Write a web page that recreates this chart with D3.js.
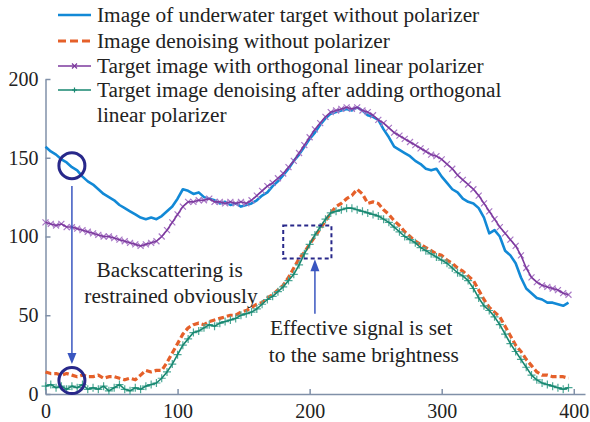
<!DOCTYPE html>
<html>
<head>
<meta charset="utf-8">
<script src="https://cdn.jsdelivr.net/npm/d3@7"></script>
<style>
  body { margin: 0; background: #fff; }
  svg { display: block; }
  svg text { font-family: "Liberation Serif", "Times New Roman", serif; }
  .axis path, .axis line { stroke: #8090a8; stroke-width: 1.5; }
  .axis text { font-size: 20px; fill: #222; }
</style>
</head>
<body>
<svg></svg>
<script>
// sampled every 4 columns along the profile
var xs = d3.range(0, 400, 4);

var blueVals = [157,154,152,149,147,144,142,138,135,133,130,127,125,123,120,118,116,114,112,111,
  112,111,113,116,119,124,130,129,127,128,125,124,123,121,122,120,121,119,120,121,
  123,126,128,132,135,139,143,148,152,157,162,166,171,175,178,179,180,181,180,182,
  180,177,176,174,168,163,157,155,153,151,148,146,143,142,143,138,134,130,128,124,
  122,121,118,112,102,104,100,91,88,83,74,67,64,61,60,58,58,57,56,58];

var orangeVals = [14,13,13,12,13,12,11,12,11,11,12,10,11,11,10,9,10,9,12,15,
  14,15,15,20,26,32,38,42,44,45,44,46,47,48,49,50,50,52,53,55,
  57,58,61,63,66,69,74,80,86,90,95,100,105,110,115,119,121,124,126,130,
  127,121,122,121,117,114,110,107,103,100,97,95,93,91,89,88,85,83,80,78,
  75,72,66,60,55,52,49,43,37,31,27,22,18,14,12,12,11,11,11,10];

var purpleVals = [109,108,107,108,106,106,105,104,103,102,101,100,100,99,98,97,96,95,94,95,
  96,97,100,104,109,114,119,122,122,123,123,124,122,122,121,122,121,122,121,123,
  126,129,132,134,137,140,144,148,153,158,163,168,172,176,179,180,181,182,181,182,
  180,179,177,174,172,169,166,164,162,160,158,156,154,152,151,149,146,143,139,136,
  133,130,126,121,116,111,106,102,98,94,88,80,74,71,69,68,67,66,64,63];

var greenVals = [5,6,4,5,3,5,4,6,3,4,3,5,2,4,6,3,2,4,3,5,
  6,7,10,14,19,25,31,35,39,40,42,44,43,45,46,47,48,50,51,52,
  54,57,60,62,65,68,72,76,82,89,95,101,106,111,115,116,117,118,118,117,
  116,115,114,113,111,109,106,103,100,98,96,93,91,89,87,85,83,80,77,75,
  72,67,61,56,53,49,44,38,32,27,22,17,12,9,7,6,5,4,3,4];

var legendLabels = [
  'Image of underwater target without polarizer',
  'Image denoising without polarizer',
  'Target image with orthogonal linear polarizer',
  'Target image denoising after adding orthogonal'
];
var legendExtra = 'linear polarizer';

var xTicks = [0, 100, 200, 300, 400];
var yTicks = [0, 50, 100, 150, 200];

var width = 590;
var height = 422;
var fontSize = 21.3;
var svg = d3.select('svg')
            .attr('width', width)
            .attr('height', height);

var xScale = d3.scaleLinear()
               .domain([0, 408.5])
               .range([45.5, 585]);
var yScale = d3.scaleLinear()
               .domain([0, 200])
               .range([394, 79]);

var series = [
  { name: 'blue', vals: blueVals, color: '#1289d6', width: 2.6, dash: null, marker: null },
  { name: 'orange', vals: orangeVals, color: '#e5602a', width: 3.2, dash: '6,3', marker: null },
  { name: 'purple', vals: purpleVals, color: '#7d3a9e', width: 1.6, dash: null, marker: 'x', mcolor: '#a979c6' },
  { name: 'green', vals: greenVals, color: '#178770', width: 1.6, dash: null, marker: '+', mcolor: '#4da896' }
];

// axes
svg.append('g')
   .attr('class', 'axis x-axis')
   .attr('transform', `translate(0, ${yScale(0)})`)
   .call(d3.axisBottom(xScale).tickValues(xTicks).tickSizeInner(-5).tickSizeOuter(0).tickPadding(8));

svg.append('g')
   .attr('class', 'axis y-axis')
   .attr('transform', `translate(${xScale(0)}, 0)`)
   .call(d3.axisLeft(yScale).tickValues(yTicks).tickSizeInner(-5).tickSizeOuter(0).tickPadding(7));

svg.selectAll('.axis').attr('font-family', null).attr('font-size', null);
svg.selectAll('.x-axis text').attr('dy', '0.8em');

var line = d3.line()
             .x((d, i) => xScale(xs[i]))
             .y(d => yScale(d));

function markerPath(type, s) {
  if (type === 'x') return `M${-s},${-s}L${s},${s}M${-s},${s}L${s},${-s}`;
  return `M${-s},0L${s},0M0,${-s}L0,${s}`;
}

series.forEach(function(s) {
  var g = svg.append('g').attr('class', 'series ' + s.name);
  if (s.marker) {
    g.selectAll('.mk')
     .data(s.vals)
     .enter()
     .append('path')
       .attr('class', 'mk')
       .attr('transform', (d, i) => `translate(${xScale(xs[i])},${yScale(d)})`)
       .attr('d', markerPath(s.marker, s.marker === 'x' ? 3 : 4))
       .attr('stroke', s.mcolor)
       .attr('stroke-width', 1.2)
       .attr('fill', 'none');
  }
  g.append('path')
   .datum(s.vals)
   .attr('d', line)
   .attr('fill', 'none')
   .attr('stroke', s.color)
   .attr('stroke-width', s.width)
   .attr('stroke-dasharray', s.dash)
   .attr('stroke-linejoin', 'round');
});

// legend
var legend = svg.append('g').attr('class', 'legend');
var legendY = [15, 41, 66, 90];
series.forEach(function(s, i) {
  var y = legendY[i];
  legend.append('line')
        .attr('x1', 58).attr('x2', 91)
        .attr('y1', y).attr('y2', y)
        .attr('stroke', s.color)
        .attr('stroke-width', s.name === 'blue' ? 2.6 : (s.name === 'orange' ? 3 : 1.4))
        .attr('stroke-dasharray', s.name === 'orange' ? '8,4' : null);
  if (s.marker) {
    legend.append('path')
          .attr('transform', `translate(74.5,${y})`)
          .attr('d', markerPath(s.marker, 2.5))
          .attr('stroke', s.color)
          .attr('stroke-width', 1.2);
  }
  legend.append('text')
        .attr('x', 97)
        .attr('y', y)
        .attr('dy', '0.33em')
        .attr('font-size', fontSize)
        .attr('fill', '#222')
        .text(legendLabels[i]);
});
legend.append('text')
      .attr('x', 97)
      .attr('y', 115)
      .attr('dy', '0.33em')
      .attr('font-size', fontSize)
      .attr('fill', '#222')
      .text(legendExtra);

// annotations
var ann = svg.append('g').attr('class', 'annotations');
var navy = '#28288a';
var arrowBlue = '#3a56c0';

ann.append('circle')
   .attr('cx', xScale(20)).attr('cy', yScale(145))
   .attr('r', 13)
   .attr('fill', 'none').attr('stroke', navy).attr('stroke-width', 3);
ann.append('circle')
   .attr('cx', xScale(20)).attr('cy', yScale(8.5))
   .attr('r', 13)
   .attr('fill', 'none').attr('stroke', navy).attr('stroke-width', 3);

ann.append('line')
   .attr('x1', xScale(20)).attr('x2', xScale(20))
   .attr('y1', yScale(132)).attr('y2', yScale(24))
   .attr('stroke', arrowBlue).attr('stroke-width', 1.5);
ann.append('path')
   .attr('d', `M${xScale(20) - 4.5},${yScale(26)}L${xScale(20) + 4.5},${yScale(26)}L${xScale(20)},${yScale(19)}Z`)
   .attr('fill', arrowBlue);

ann.append('rect')
   .attr('x', xScale(180)).attr('y', yScale(107))
   .attr('width', xScale(216.5) - xScale(180))
   .attr('height', yScale(86) - yScale(107))
   .attr('fill', 'none').attr('stroke', navy)
   .attr('stroke-width', 2).attr('stroke-dasharray', '4,3');

ann.append('line')
   .attr('x1', xScale(204)).attr('x2', xScale(204))
   .attr('y1', yScale(51)).attr('y2', yScale(80))
   .attr('stroke', arrowBlue).attr('stroke-width', 1.5);
ann.append('path')
   .attr('d', `M${xScale(204) - 4.5},${yScale(78)}L${xScale(204) + 4.5},${yScale(78)}L${xScale(204)},${yScale(85.5)}Z`)
   .attr('fill', arrowBlue);

var notes = [
  { text: 'Backscattering is', x: 94, y: 79 },
  { text: 'restrained obviously', x: 95, y: 62 },
  { text: 'Effective signal is set', x: 239, y: 42 },
  { text: 'to the same brightness', x: 241, y: 25 }
];
ann.selectAll('.note')
   .data(notes)
   .enter()
   .append('text')
     .attr('class', 'note')
     .attr('x', d => xScale(d.x))
     .attr('y', d => yScale(d.y))
     .attr('dy', '0.33em')
     .attr('text-anchor', 'middle')
     .attr('font-size', fontSize)
     .attr('fill', '#222')
     .text(d => d.text);
</script>
</body>
</html>
